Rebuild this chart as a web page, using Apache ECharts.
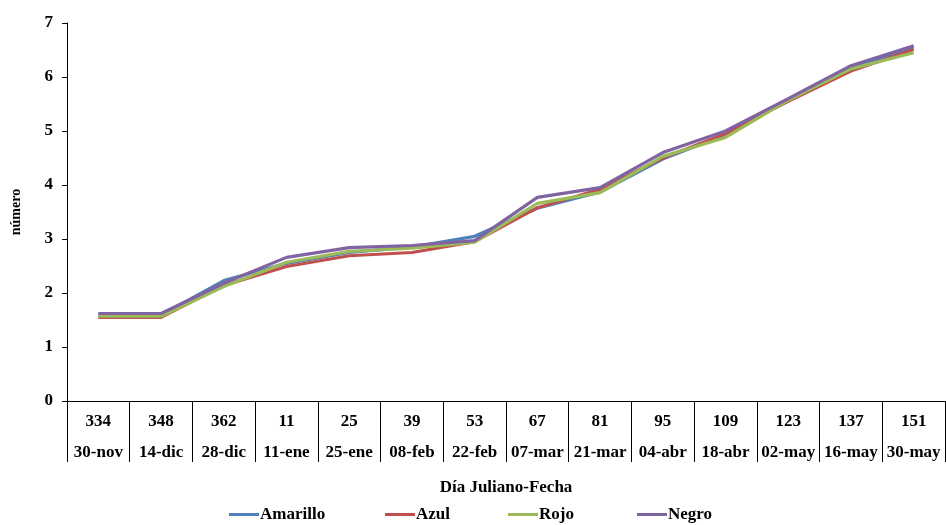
<!DOCTYPE html>
<html>
<head>
<meta charset="utf-8">
<script src="https://cdn.jsdelivr.net/npm/echarts@6/dist/echarts.min.js"></script>
<style>
  html, body { margin: 0; padding: 0; background: #fff; }
  #chart { width: 946px; height: 525px; }
</style>
</head>
<body>
<div id="chart"></div>
<script>
// Día juliano y fecha de cada muestreo
const diaJuliano = ['334', '348', '362', '11', '25', '39', '53', '67', '81', '95', '109', '123', '137', '151'];
const fecha = ['30-nov', '14-dic', '28-dic', '11-ene', '25-ene', '08-feb', '22-feb', '07-mar', '21-mar', '04-abr', '18-abr', '02-may', '16-may', '30-may'];

// Número medio por color de trampa
const amarillo = [1.59, 1.59, 2.23, 2.55, 2.75, 2.85, 3.05, 3.57, 3.87, 4.48, 4.93, 5.57, 6.17, 6.55];
const azul     = [1.55, 1.55, 2.14, 2.49, 2.69, 2.75, 2.95, 3.58, 3.92, 4.50, 4.95, 5.55, 6.11, 6.51];
const rojo     = [1.57, 1.57, 2.12, 2.57, 2.77, 2.83, 2.94, 3.66, 3.86, 4.53, 4.88, 5.57, 6.15, 6.45];
const negro    = [1.62, 1.62, 2.18, 2.66, 2.84, 2.88, 2.97, 3.77, 3.95, 4.60, 5.00, 5.60, 6.21, 6.58];

const serieNombres = ['Amarillo', 'Azul', 'Rojo', 'Negro'];
const serieDatos = [amarillo, azul, rojo, negro];
const colores = ['#4F81BD', '#C0504D', '#9BBB59', '#8064A2'];

const fuente = {
  fontFamily: '"Liberation Serif", "Times New Roman", serif',
  fontWeight: 'bold',
  color: '#000'
};

const chart = echarts.init(document.getElementById('chart'), null, { renderer: 'canvas' });

const legendLeft = [229, 385, 508, 637];

const option = {
  animation: false,
  backgroundColor: '#fff',
  grid: { left: 67, right: 1, top: 23, bottom: 124, containLabel: false },
  xAxis: {
    type: 'category',
    data: diaJuliano,
    boundaryGap: true,
    name: 'Día Juliano-Fecha',
    nameLocation: 'middle',
    nameGap: 78,
    nameTextStyle: Object.assign({}, fuente, { fontSize: 17 }),
    axisLine: { show: true, lineStyle: { color: '#000', width: 1 } },
    axisTick: { show: true, interval: 0, length: 61, alignWithLabel: false, lineStyle: { color: '#000', width: 1 } },
    axisLabel: {
      interval: 0,
      margin: 5,
      formatter: function (value, idx) {
        return '{a|' + value + '}\n{b|' + fecha[idx] + '}';
      },
      rich: {
        a: Object.assign({}, fuente, { fontSize: 17, lineHeight: 31, align: 'center' }),
        b: Object.assign({}, fuente, { fontSize: 17, lineHeight: 31, align: 'center' })
      }
    },
    splitLine: { show: false }
  },
  yAxis: {
    type: 'value',
    min: 0,
    max: 7,
    interval: 1,
    name: 'número',
    nameLocation: 'middle',
    nameGap: 44,
    nameRotate: 90,
    nameTextStyle: Object.assign({}, fuente, { fontSize: 14 }),
    axisLine: { show: true, lineStyle: { color: '#000', width: 1 } },
    axisTick: { show: true, inside: false, length: 5, lineStyle: { color: '#000' } },
    axisLabel: Object.assign({}, fuente, { fontSize: 17, margin: 14 }),
    splitLine: { show: false }
  },
  legend: serieNombres.map(function (n, i) {
    return {
      data: [n],
      left: legendLeft[i],
      top: 506,
      icon: 'rect',
      itemWidth: 30,
      itemHeight: 3,
      itemGap: 0,
      padding: 0,
      textStyle: Object.assign({}, fuente, { fontSize: 17, padding: [0, 0, 0, -4] })
    };
  }),
  series: serieNombres.map(function (n, i) {
    return {
      name: n,
      type: 'line',
      data: serieDatos[i],
      showSymbol: false,
      symbol: 'none',
      color: colores[i],
      lineStyle: { color: colores[i], width: 3.2 },
      emphasis: { disabled: true }
    };
  })
};

chart.setOption(option);
</script>
</body>
</html>
